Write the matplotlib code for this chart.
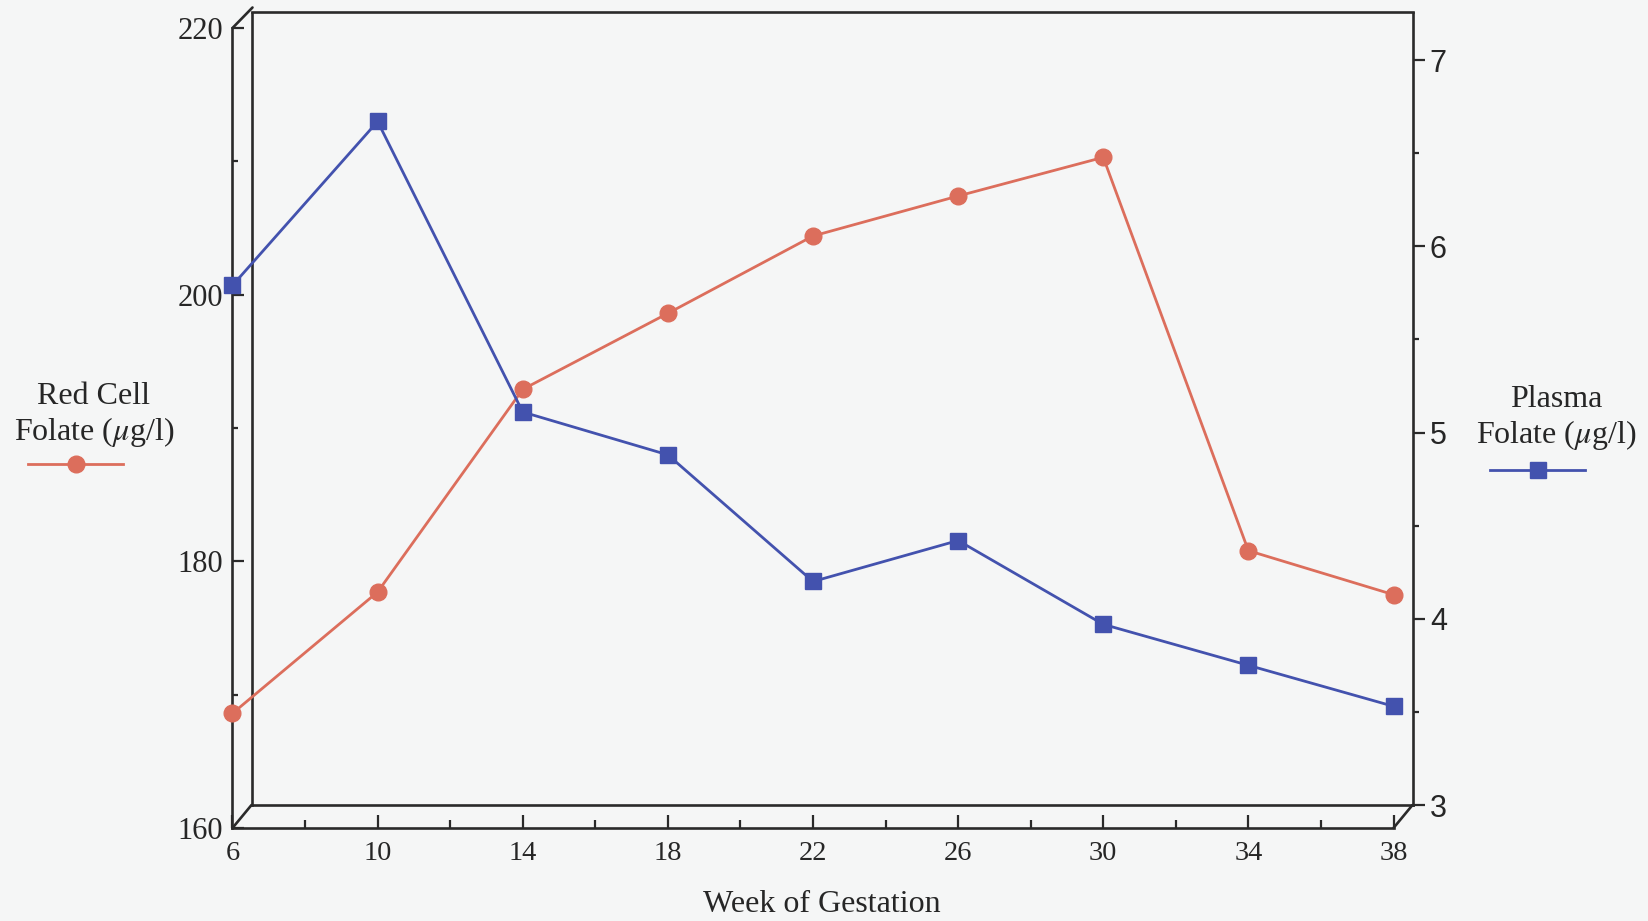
import matplotlib
matplotlib.use('Agg')
import matplotlib.pyplot as plt
from matplotlib.lines import Line2D
from matplotlib.ticker import MultipleLocator
from matplotlib.font_manager import FontProperties

# ---------------- data ----------------
weeks = [6, 10, 14, 18, 22, 26, 30, 34, 38]
red_cell_folate = [168.6, 177.7, 192.9, 198.6, 204.4, 207.4, 210.3, 180.8, 177.5]
plasma_folate = [5.79, 6.67, 5.11, 4.88, 4.20, 4.42, 3.97, 3.75, 3.53]
x_ticks = [6, 10, 14, 18, 22, 26, 30, 34, 38]
left_ticks = [160, 180, 200, 220]
right_ticks = [3, 4, 5, 6, 7]

# ---------------- style ----------------
plt.rcParams['font.family'] = ['Liberation Serif', 'DejaVu Serif']
plt.rcParams['mathtext.fontset'] = 'stix'
BG = '#f5f6f6'
FRAME = '#2a2a2a'
TXT = '#262626'
RED = '#dc6e5c'
BLUE = '#4352ae'
LW_FRAME = 1.9

W, H = 1649, 921
fig = plt.figure(figsize=(W / 100, H / 100), dpi=100, facecolor=BG)


def fx(px):
    return px / W


def fy(py):
    return 1 - py / H


# pixel boxes of front plane and back plane
FL, FR, FT, FB = 232.5, 1393.5, 28, 828
BL, BR, BT, BB = 251.5, 1412.5, 12.5, 805
R3, R7 = 805.0, 60.0           # pixel rows of right-axis values 3 and 7
per = (R3 - R7) / (right_ticks[-1] - right_ticks[0])

# ---- back plane (right axis) ----
back = fig.add_axes([fx(BL), fy(BB), (BR - BL) / W, (BB - BT) / H])
back.patch.set_visible(False)
for s in back.spines.values():
    s.set_color(FRAME)
    s.set_linewidth(LW_FRAME)
back.set_xticks([])
back.yaxis.tick_right()
back.set_ylim(3 - (BB - R3) / per, 7 + (R7 - BT) / per)
back.set_yticks(right_ticks)
back.yaxis.set_minor_locator(MultipleLocator(0.5))
back.tick_params(axis='y', which='major', direction='out', length=8.5, width=1.6,
                 color=FRAME, pad=4, labelsize=22, labelcolor=TXT)
back.tick_params(axis='y', which='minor', direction='out', length=4.5, width=1.6, color=FRAME)
for lab in back.get_yticklabels():
    lab.set_family('Liberation Sans')

# ---- front plane (left + bottom axes) ----
ax = fig.add_axes([fx(FL), fy(FB), (FR - FL) / W, (FB - FT) / H])
ax.patch.set_visible(False)
ax.spines['top'].set_visible(False)
ax.spines['right'].set_visible(False)
for s in ('left', 'bottom'):
    ax.spines[s].set_color(FRAME)
    ax.spines[s].set_linewidth(LW_FRAME)
ax.set_xlim(6, 38)
ax.set_ylim(160, 220)
ax.set_xticks(x_ticks)
ax.xaxis.set_minor_locator(MultipleLocator(2))
ax.set_yticks(left_ticks)
ax.yaxis.set_minor_locator(MultipleLocator(10))
ax.tick_params(axis='x', which='major', direction='in', length=9.5, width=1.6, color=FRAME,
               pad=9, labelsize=20.5, labelcolor=TXT)
ax.tick_params(axis='x', which='minor', direction='in', length=5.5, width=1.6, color=FRAME)
ax.tick_params(axis='y', which='major', direction='in', length=8.5, width=1.6, color=FRAME,
               pad=7, labelsize=22, labelcolor=TXT)
ax.tick_params(axis='y', which='minor', direction='in', length=4.5, width=1.6, color=FRAME)

ax.set_xlabel('Week of Gestation', fontsize=23, color=TXT)
ax.xaxis.label.set_va('baseline')
ax.xaxis.set_label_coords((822 - FL) / (FR - FL), (FB - 912) / (FB - FT))

red_line, = ax.plot(weeks, red_cell_folate, color=RED, lw=2.0, marker='o', ms=12,
                    mfc=RED, mec=RED, clip_on=False, zorder=5)

ax2 = ax.twinx()
ax2.patch.set_visible(False)
for s in ax2.spines.values():
    s.set_visible(False)
ax2.set_yticks([])
ax2.set_ylim(3 - (FB - R3) / per, 7 + (R7 - FT) / per)
blue_line, = ax2.plot(weeks, plasma_folate, color=BLUE, lw=2.0, marker='s', ms=11.5,
                      mfc=BLUE, mec=BLUE, clip_on=False, zorder=5)

# ---- oblique connectors of the pseudo-3D frame ----
for (x1, y1), (x2, y2) in [((FL, FB), (BL, BB)), ((FR, FB), (BR, BB)), ((FL, FT), (BL + 1, 7.5))]:
    fig.add_artist(Line2D([fx(x1), fx(x2)], [fy(y1), fy(y2)], color=FRAME,
                          lw=LW_FRAME, solid_capstyle='round'))

# ---- series keys with their axis titles ----
fs = 23
fs_px = fs * 100 / 72
tprop = FontProperties(family='Liberation Serif', size=fs)
for handle, title, cx, top, lsp in [(red_line, 'Red Cell\nFolate ($\\mu$g/l)', 94, 382, 0.12),
                                    (blue_line, 'Plasma\nFolate ($\\mu$g/l)', 1556, 385, 0.2)]:
    leg = fig.legend(handles=[handle], labels=[''], title=title, loc='upper center',
                     bbox_to_anchor=(fx(cx), fy(top)), frameon=False,
                     handlelength=95 / fs_px, handletextpad=36 / fs_px, borderpad=0,
                     borderaxespad=0, labelspacing=lsp, numpoints=1,
                     prop=tprop, title_fontproperties=tprop)
    leg.get_title().set_multialignment('center')
    leg.get_title().set_linespacing(1.16)
    leg.get_title().set_color(TXT)

fig.savefig('out.png', dpi=100, facecolor=BG)
